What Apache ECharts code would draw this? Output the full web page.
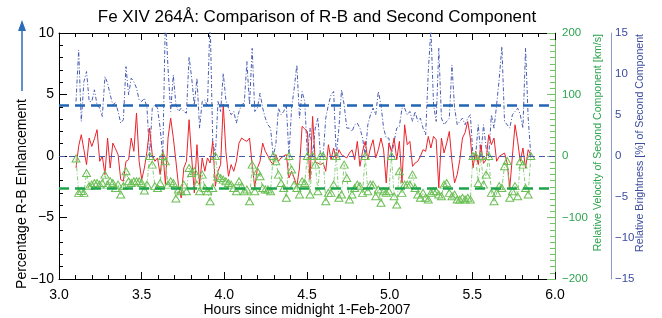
<!DOCTYPE html>
<html>
<head>
<meta charset="utf-8">
<script src="https://cdn.jsdelivr.net/npm/echarts@6/dist/echarts.min.js"></script>
<style>
  html, body { margin: 0; padding: 0; background: #fff; }
  #main { width: 662px; height: 318px; }
</style>
</head>
<body>
<div id="main"></div>
<script>
// observation times: regular cadence (hours since midnight)
var obsStart = 3.103;
var cadence = 0.0159;

// R-B enhancement [%]
var redPct = [
  -0.97, 0.8, 1.73, 0.51, -0.70, 1.46, 0.78, 1.4, 2.14, -0.43,
  -0.03, -1.51, 1.46, -0.97, 1.05, 0.6, 0.11, -1.92, -2.05, -0.43,
  -0.30, 1.46, 0.38, 3.49, -0.43, -1.92, -0.97, 0.38, 2.27, 0.11,
  -0.43, -0.16, -1.51, 0.38, -2.32, 1.46, 3.08, 1.5, -0.43, -2.46,
  -3.41, -0.97, -0.43, 2.95, -0.16, -3.0, 0.92, -2.32, -0.16, -1.24,
  -0.16, -0.57, 1.19, -2.46, -1.24, -0.70, 4.22, 0.38, -1.65, -0.70,
  -1.24, -0.43, 1.05, 1.46, 1.3, 1.19, 1.46, -0.70, -2.59, -0.97,
  -0.43, 1.05, 0.38, 0.0, -0.43, -0.70, 0.11, -0.43, -0.16, 0.0,
  0.11, -1.78, -1.24, -1.78, -2.46, -0.97, 2.41, 2.2, 2.0, -1.92,
  3.22, -0.5, -0.57, -0.70, -0.57, -1.24, 0.92, -0.30, 0.65, -0.30,
  0.51, 0.11, -0.03, -0.16, 0.24, 0.5, -0.3, 1.19, -0.84, 0.38,
  1.19, -0.30, 0.65, 1.32, -0.16, 0.51, 1.46, 0.5, -2.19, 1.05,
  0.38, 1.46, -0.30, 1.19, -2.19, 2.54, 0.92, 1.19, -0.84, -0.57,
  -0.43, -0.03, 0.51, 0.38, 1.59, 0.65, 1.59, 1.32, -2.59, 1.46,
  0.24, 1.05, 2.0, -0.43, -2.19, -1.51, -0.3, 1.46, 1.9, 2.81,
  1.46, -0.97, 0.38, -0.70, 0.92, -0.6, -0.30, 1.73, 0.92, 1.46,
  -0.43, -0.03, 0.11, 0.24, -0.57, -2.59, 0.0, 2.54, 1.19, -0.43,
  0.65, -0.97, 0.51, 0.11
];

// relative brightness of second component [%]
var brightnessPct = [
  6.65, 12.93, 4.22, 9.08, 10.30, 6.65, 6.65, 8.07, 6.24, 5.84,
  4.82, 9.69, 8.88, 7.46, 6.24, 6.5, 5.43, 4.01, 4.42, 10.9,
  7.46, 9.49, 9.08, 8.27, 6.85, 6.65, 7.05, 5.84, 0, 5.84,
  6.24, 5.84, 3.4, 0, 17, 10.7, 5.43, 9.89, 6.24, 5.43,
  5.84, 5.43, 5.23, 12.1, 9.49, 6.24, 9.49, 3.4, 6.65, 6.85,
  6.04, 17, 1.78, 0, 6.65, 5.43, 10.09, 6.85, 5.84, 5.03,
  5.43, 4.01, 5.43, 6.24, 6.45, 11.51, 6.24, 13.13, 5.43, 5.84,
  7.66, 5.84, 4.62, 3.81, 3.40, 0, 1.38, 5.84, 5.03, 5.43,
  6.24, 0, 5.84, 8.27, 11.1, 4.62, 7.86, 6.65, 0, 3.40,
  0, 3.40, 4.62, 0, 0, 4.62, 6.24, 7.46, 7.86, 0,
  3.40, 8.07, 6.24, 3.40, 3.40, 3.0, 3.81, 4.01, 3.40, 2.19,
  0, 3.81, 5.03, 5.84, 5.03, 7.86, 6.24, 3.40, 2.19, 2.19,
  0, 1.78, 3.40, 3.6, 5.84, 5.84, 5.03, 5.43, 4.22, 5.43,
  4.22, 4.62, 3.40, 2.59, 10.3, 15.5, 6.24, 4.22, 13.13, 4.62,
  3.81, 4.22, 4.62, 11.1, 5.84, 3.81, 4.22, 4.62, 3.81, 4.62,
  5.03, 0, 0, 3.81, 0, 3.81, 0.97, 0, 5.03, 3.40,
  6.24, 9.49, 13.34, 4.22, 3.81, 3.40, 5.03, 5.43, 5.84, 5.03,
  3.40, 13.13, 4.62, 0
];

// relative velocity of second component [km/s]
var velocityKms = [
  -4, -60, -57, -60, -27.6, -49, -46.5, -43.8, -43.8, -46.5,
  -43.8, -30.3, -46.5, -41, -43.8, -51.9, -46.5, -62.7, -49, -24.9,
  -41, -43.8, -41, -41, -41, -43.8, -56, -46.5, 0, -14,
  -49, -51.9, -43.8, 0, -8.6, -46.5, -41, -43.8, -69, -54.6,
  -57.3, -46.5, -57.3, -19.5, -27.6, -24.9, -46.5, -57.3, -30.3, -51.9,
  -57.3, -73.5, -51.9, 0, -33, -35.7, -38.4, -41, -43.8, -46.5,
  -51.9, -57.3, -41, -49, -57.3, -54.6, -73.5, -14, -57.3, -24.9,
  -33, -51.9, -54.6, -54.6, -57.3, 0, -8.6, -30.3, -43.8, -51.9,
  -68, 0, -22, -46.5, -51.9, -62.7, -41, -43.8, 0, -62.7,
  0, -14, -57.3, 0, 0, -73.5, -60, -60, -46.5, 0,
  -68, -62.7, -14, -35.7, -70.8, -62.7, -51.9, -46.5, -49, -60,
  0, -57.3, -46.5, -46.5, -65.4, -54.6, -76, -57.3, -60, -57.3,
  0, -65.4, -79, -24.9, -60, -46.5, -46.5, -46.5, -30.3, -51.9,
  -62.7, -68, -60, -68, -70.8, -60, -57.3, -57.3, -62.7, -65.4,
  -46.5, -43.8, -60, -65.4, -62.7, -70.8, -70.8, -68, -70.8, -68,
  -70.8, 0, 0, -43.8, 0, -46.5, -30.3, 0, -60, -73.5,
  -60, -49, -51.9, -16.8, -8, -68, -57.3, -49, -65.4, -8.6,
  -14, -51.9, -62.7, 0
];

// reference levels drawn as dashed lines
var meanBrightness = 6.2;
var meanVelocity = -52.5;

var hours = redPct.map(function (_, i) { return +(obsStart + i * cadence).toFixed(4); });

var FONT = '"Liberation Sans", Arial, Helvetica, sans-serif';

function pairs(vals) {
  return vals.map(function (v, i) { return [hours[i], v]; });
}
function minus(v) {
  return v < 0 ? '\u2212' + Math.abs(v) : String(v);
}

var chart = echarts.init(document.getElementById('main'));

var xTicks = {
  axisLine: {show: true, onZero: false, lineStyle: {color: '#000', width: 1}},
  axisTick: {show: true, inside: true, length: 7, lineStyle: {color: '#000'}},
  minorTick: {show: true, splitNumber: 5, length: 4, lineStyle: {color: '#000'}},
  splitLine: {show: false}
};

chart.setOption({
  animation: false,
  grid: {left: 59, right: 107, top: 33, bottom: 39},
  xAxis: [
    Object.assign({
      type: 'value', min: 3, max: 6, interval: 0.5, position: 'bottom',
      axisLabel: {
        formatter: function (v) { return v.toFixed(1); },
        color: '#000', fontSize: 14, fontFamily: FONT, margin: 9
      }
    }, xTicks),
    Object.assign({
      type: 'value', min: 3, max: 6, interval: 0.5, position: 'top',
      axisLabel: {show: false}
    }, xTicks)
  ],
  yAxis: [
    {
      type: 'value', min: -10, max: 10, interval: 5, position: 'left',
      axisLine: {show: true, onZero: false, lineStyle: {color: '#000'}},
      axisTick: {show: true, inside: true, length: 8, lineStyle: {color: '#000'}},
      minorTick: {show: true, splitNumber: 5, length: 4, lineStyle: {color: '#000'}},
      splitLine: {show: false},
      axisLabel: {formatter: minus, color: '#000', fontSize: 14, fontFamily: FONT, margin: 5}
    },
    {
      type: 'value', min: -200, max: 200, interval: 100, position: 'right',
      axisLine: {show: true, onZero: false, lineStyle: {color: '#74c267'}},
      axisTick: {show: true, inside: true, length: 8, lineStyle: {color: '#74c267'}},
      minorTick: {show: true, splitNumber: 10, length: 5, lineStyle: {color: '#74c267'}},
      splitLine: {show: false},
      axisLabel: {formatter: minus, color: '#2ea44f', fontSize: 11.5, fontFamily: FONT, margin: 7}
    },
    {
      type: 'value', min: -15, max: 15, interval: 5, position: 'right', offset: 56,
      axisLine: {show: true, onZero: false, lineStyle: {color: '#8e99cf'}},
      axisTick: {show: false},
      splitLine: {show: false},
      axisLabel: {formatter: minus, color: '#3d4c9f', fontSize: 11.5, fontFamily: FONT, margin: 4}
    }
  ],
  series: [
    {
      name: 'brightness', type: 'line', yAxisIndex: 2,
      data: pairs(brightnessPct),
      symbol: 'none', silent: true,
      lineStyle: {color: '#4a5cb1', width: 1, type: [4, 2, 1, 2]},
      markLine: {
        symbol: 'none', silent: true, label: {show: false},
        lineStyle: {color: '#2266b4', width: 2.5, type: [10, 6]},
        data: [{yAxis: meanBrightness}]
      },
      z: 2
    },
    {
      name: 'R-B', type: 'line', yAxisIndex: 0,
      data: pairs(redPct),
      symbol: 'none', silent: true,
      lineStyle: {color: '#e8232b', width: 1},
      markLine: {
        symbol: 'none', silent: true, label: {show: false},
        lineStyle: {color: '#4a5aa8', width: 1, type: [6, 4]},
        data: [{yAxis: 0}]
      },
      z: 3
    },
    {
      name: 'velocity', type: 'line', yAxisIndex: 1,
      data: pairs(velocityKms),
      symbol: 'triangle', symbolSize: [8, 7], showAllSymbol: true, silent: true,
      itemStyle: {color: 'rgba(0,0,0,0)', borderColor: '#6cbf55', borderWidth: 1},
      lineStyle: {color: '#86cc78', width: 1, type: [4, 2, 1, 2]},
      markLine: {
        symbol: 'none', silent: true, label: {show: false},
        lineStyle: {color: '#1ca44c', width: 2.5, type: [10, 6]},
        data: [{yAxis: meanVelocity}]
      },
      z: 4
    }
  ],
  graphic: [
    {
      type: 'text', x: 317, y: 17,
      style: {
        text: 'Fe XIV 264Å: Comparison of R-B and Second Component',
        font: '17px ' + FONT, fill: '#000', align: 'center', verticalAlign: 'middle'
      }
    },
    {
      type: 'text', x: 307, y: 310,
      style: {
        text: 'Hours since midnight 1-Feb-2007',
        font: '14px ' + FONT, fill: '#000', align: 'center', verticalAlign: 'middle'
      }
    },
    {
      type: 'text', x: 22, y: 194, rotation: Math.PI / 2,
      style: {
        text: 'Percentage R-B Enhancement',
        font: '14px ' + FONT, fill: '#000', align: 'center', verticalAlign: 'middle'
      }
    },
    // arrow next to the left title
    {
      type: 'line', shape: {x1: 22, y1: 91, x2: 22, y2: 28},
      style: {stroke: '#2b6cb8', lineWidth: 1.5}
    },
    {
      type: 'polygon', shape: {points: [[22, 20], [18, 31], [26, 31]]},
      style: {fill: '#2b6cb8'}
    },
    {
      type: 'text', x: 598, y: 34, rotation: Math.PI / 2,
      style: {
        text: 'Relative Velocity of Second Component [km/s]',
        font: '10.6px ' + FONT, fill: '#2ea44f', align: 'right', verticalAlign: 'middle'
      }
    },
    {
      type: 'text', x: 640, y: 34, rotation: Math.PI / 2,
      style: {
        text: 'Relative Brightness [%] of Second Component',
        font: '10.6px ' + FONT, fill: '#3d4c9f', align: 'right', verticalAlign: 'middle'
      }
    }
  ]
});
</script>
</body>
</html>
